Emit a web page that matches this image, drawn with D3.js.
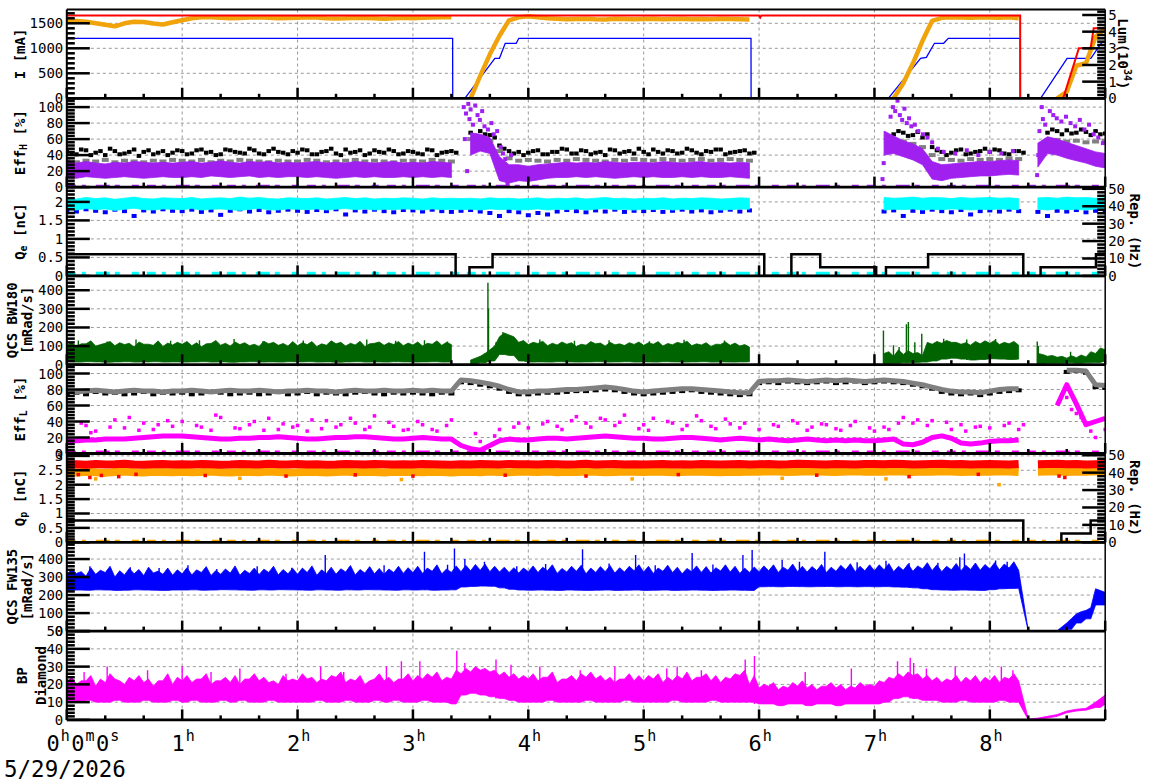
<!DOCTYPE html>
<html><head><meta charset="utf-8">
<script src="https://cdn.jsdelivr.net/npm/d3@7"></script>
<style>body{margin:0;background:#fff}svg{display:block}text{font-family:"DejaVu Sans Mono",monospace;fill:#000}</style>
</head><body><svg id="chart" width="1172" height="782"></svg>
<script>
const _ = null;
const BIN_MIN = 5; // one sample every 5 minutes, index 0..108 covers 0h..9h; "Mid" arrays sit half a bin later

// ---------- tick labels ----------
const hourLabels = [1,2,3,4,5,6,7,8];
const iTickLabels = [0,500,1000,1500];
const lumTickLabels = [0,1,2,3,4,5];
const effTickLabels = [0,20,40,60,80,100];
const qeTickLabels = [0,0.5,1,1.5,2];
const repTickLabels = [0,10,20,30,40,50];
const bwTickLabels = [0,100,200,300,400];
const qpTickLabels = [0,0.5,1,1.5,2,2.5,3];
const fwTickLabels = [0,100,200,300,400];
const bpTickLabels = [0,10,20,30,40,50];

// ---------- panel 1 : beam currents and luminosity ----------
const herCurrentPts = [[0,1200],[3.344,1200],[3.345,0],[3.45,0],[3.71,800],[3.75,800],[3.80,1100],[3.895,1100],[3.918,1200],[5.930,1200],[5.931,0],[7.12,0],[7.40,800],[7.45,820],[7.52,1100],[7.60,1100],[7.64,1200],[8.263,1200],[8.264,0],[8.44,0],[8.67,800],[8.876,800],[8.97,1120],[9,1120]];
const lumPts = [[0,4.97],[6.0,4.97],[6.01,4.85],[6.02,4.97],[8.263,4.97],[8.264,0],[8.636,0],[8.772,3.0],[8.874,3.0],[8.9,4.2],[9,4.2]];
const lerCurrent = [
1550,1545,1530,1500,1470,1440,1500,1530,1525,1495,1475,1520,
1560,1600,1620,1620,1610,1600,1605,1615,1620,1610,1600,1605,
1610,1620,1615,1600,1595,1600,1610,1605,1600,1590,1600,1610,
1600,1610,1615,1620,1620,_,0,450,880,1250,1560,1620,
1640,1620,1600,1590,1580,1585,1590,1580,1575,1590,1585,1580,
1585,1590,1580,1585,1590,1580,1585,1580,1590,1585,1580,1575,
_,_,_,_,_,_,_,_,_,_,_,_,
_,_,0,300,700,1150,1550,1610,1620,1615,1610,1620,
1615,1610,1620,1600,_,_,_,0,130,650,700,1230,
1400];

// ---------- panel 2 : Eff_H ----------
const effHPurpleLo = [
12,11,13,12,11,12,13,12,11,12,13,12,
12,13,12,14,13,12,13,14,12,13,12,13,
13,12,13,12,11,12,13,12,13,12,12,13,
12,13,12,13,12,_,40,45,42,8,5,8,
7,9,11,12,12,13,12,13,12,11,12,13,
12,13,12,12,13,12,13,12,12,13,12,11,
_,_,_,_,_,_,_,_,_,_,_,_,
_,40,42,38,34,28,10,8,11,12,13,14,
14,15,16,15,_,25,42,40,36,33,30,26,
24];
const effHPurpleHi = [
31,30,32,30,29,31,30,32,31,30,31,30,
31,32,30,31,33,31,30,32,31,32,30,31,
30,31,32,30,31,30,32,31,30,31,32,30,
31,30,32,31,30,_,68,66,62,38,28,28,
26,28,29,30,31,30,31,30,32,31,30,31,
31,30,32,31,30,31,32,30,31,30,31,30,
_,_,_,_,_,_,_,_,_,_,_,_,
_,70,64,58,54,48,32,28,29,30,31,32,
32,33,34,33,_,55,63,60,56,52,48,44,
42];
const effHBlackA = [
44,41,46,43,40,45,42,47,44,41,45,43,
45,42,47,44,41,46,43,48,42,45,44,41,
43,46,41,45,42,47,44,40,46,43,45,42,
44,41,46,43,45,_,68,70,65,52,45,44,
43,46,41,44,47,42,45,43,40,46,44,42,
44,47,42,45,43,46,41,44,47,43,45,42,
_,_,_,_,_,_,_,_,_,_,_,_,
_,_,66,68,65,62,50,44,43,47,42,45,
44,46,41,45,_,_,68,70,71,68,69,70,
67];
const effHBlackB = [
42,47,40,45,48,41,44,39,46,43,40,46,
41,46,43,40,47,44,42,46,41,48,43,45,
47,41,44,48,40,43,46,42,44,47,41,45,
42,47,40,44,43,_,64,66,62,48,42,40,
45,41,44,48,42,46,41,44,47,42,45,48,
41,44,46,42,48,43,45,47,41,44,46,43,
_,_,_,_,_,_,_,_,_,_,_,_,
_,_,70,64,69,66,46,40,46,41,44,48,
47,42,45,43,_,_,72,66,67,72,65,66,
70];
const effHGray = [
32,31,33,32,34,31,33,32,31,33,32,34,
33,32,34,31,33,32,34,33,32,31,33,32,
32,34,33,31,32,33,34,32,33,32,31,33,
33,32,34,33,32,_,60,61,58,45,36,33,
34,33,32,34,33,35,34,33,32,34,33,35,
34,33,35,34,33,34,35,33,34,35,34,33,
_,_,_,_,_,_,_,_,_,_,_,_,
_,_,56,57,54,50,40,35,34,33,35,34,
35,34,36,35,_,_,58,59,57,58,56,57,
58];
const effHPurpleOutliers = [[3.44,100],[3.45,60],[3.46,92],[3.47,20],[3.48,104],[3.49,85],[3.5,97],[3.52,78],[3.54,102],[3.56,90],[3.58,84],[3.6,95],[3.62,76],[3.65,72],[3.68,80],[3.7,66],[3.73,70],[3.76,50],[3.78,42],[3.8,35],[3.82,5],[3.85,40],
[7.07,10],[7.08,30],[7.1,55],[7.14,88],[7.16,100],[7.18,95],[7.2,108],[7.22,90],[7.24,84],[7.26,98],[7.28,80],[7.3,86],[7.32,76],[7.35,78],[7.38,70],[7.42,66],[7.46,62],[7.5,56],[7.55,48],[7.6,44],[7.7,42],[7.8,46],[7.9,40],[8.0,44],[8.1,42],[8.2,45],
[8.41,15],[8.42,40],[8.43,70],[8.45,100],[8.46,85],[8.48,78],[8.52,95],[8.55,90],[8.58,86],[8.62,82],[8.66,88],[8.7,80],[8.74,76],[8.78,84],[8.82,72],[8.86,78],[8.9,66],[8.94,62],[8.98,55]];

// ---------- panel 3 : Q_e and e- repetition ----------
const qeCyanLo = [
1.80,1.78,1.82,1.79,1.81,1.77,1.80,1.83,1.79,1.78,1.81,1.80,
1.79,1.82,1.78,1.80,1.81,1.79,1.77,1.80,1.82,1.79,1.78,1.81,
1.80,1.79,1.81,1.78,1.80,1.82,1.79,1.81,1.78,1.80,1.79,1.81,
1.80,1.78,1.81,1.79,1.80,1.79,1.80,1.78,1.81,1.79,1.80,1.78,
1.79,1.81,1.78,1.80,1.79,1.81,1.78,1.80,1.82,1.79,1.80,1.78,
1.80,1.79,1.81,1.78,1.80,1.79,1.81,1.80,1.78,1.79,1.81,1.80,
_,_,_,_,_,_,_,_,_,_,_,_,
_,1.78,1.80,1.79,1.81,1.78,1.80,1.79,1.81,1.80,1.78,1.80,
1.79,1.81,1.80,1.79,_,1.80,1.78,1.81,1.79,1.80,1.78,1.81,
1.80];
const qeCyanHi = [
2.10,2.08,2.12,2.09,2.11,2.07,2.10,2.13,2.09,2.08,2.11,2.10,
2.09,2.12,2.08,2.10,2.11,2.09,2.13,2.10,2.12,2.09,2.08,2.11,
2.10,2.09,2.11,2.08,2.10,2.12,2.09,2.11,2.08,2.10,2.09,2.11,
2.10,2.08,2.11,2.09,2.10,2.09,2.10,2.08,2.11,2.09,2.10,2.08,
2.09,2.11,2.08,2.10,2.09,2.11,2.08,2.10,2.12,2.09,2.10,2.08,
2.10,2.09,2.11,2.08,2.10,2.09,2.11,2.10,2.08,2.09,2.11,2.10,
_,_,_,_,_,_,_,_,_,_,_,_,
_,2.12,2.10,2.11,2.13,2.10,2.12,2.11,2.09,2.12,2.10,2.11,
2.12,2.10,2.11,2.09,_,2.11,2.12,2.10,2.13,2.11,2.12,2.10,
2.11];
const qeBlue = [
1.78,1.74,1.80,1.76,1.72,1.79,1.75,1.62,1.77,1.74,1.80,1.76,
1.75,1.79,1.73,1.77,1.65,1.76,1.80,1.74,1.78,1.72,1.76,1.79,
1.76,1.73,1.78,1.75,1.80,1.66,1.77,1.74,1.79,1.75,1.72,1.78,
1.77,1.74,1.79,1.75,1.73,1.76,1.78,1.74,1.70,1.62,1.75,1.72,
1.64,1.70,1.66,1.74,1.78,1.75,1.72,1.77,1.74,1.79,1.73,1.76,
1.75,1.78,1.73,1.76,1.79,1.74,1.77,1.72,1.76,1.79,1.74,1.77,
_,_,_,_,_,_,_,_,_,_,_,_,
_,1.74,1.77,1.62,1.76,1.73,1.79,1.75,1.72,1.78,1.66,1.75,
1.77,1.74,1.79,1.75,_,1.73,1.62,1.76,1.74,1.78,1.72,1.76,
1.75];
const repEPts = [[0,12.5],[3.37,12.5],[3.37,0],[3.49,0],[3.49,5],[3.69,5],[3.69,12.5],[6.045,12.5],[6.045,0],[6.28,0],[6.28,12.5],[6.53,12.5],[6.53,5],[7.015,5],[7.015,0],[7.10,0],[7.10,5],[7.465,5],[7.465,12.5],[8.29,12.5],[8.29,0],[8.44,0],[8.44,5],[8.92,5],[8.92,12.5],[9,12.5]];
const qeZeroLevel = [[0,9,0.06]];

// ---------- panel 4 : QCS BW180 ----------
const bw180Lo = [
15,14,16,15,13,15,16,14,15,16,14,15,
14,15,16,14,15,13,15,16,14,15,14,16,
15,16,14,15,13,15,16,14,15,14,16,15,
14,15,16,14,15,_,5,10,20,55,50,20,
14,15,14,16,15,14,15,16,14,15,16,14,
15,14,16,15,14,15,16,14,15,14,15,16,
_,_,_,_,_,_,_,_,_,_,_,_,
_,5,8,10,12,14,20,30,35,30,25,28,
32,30,28,30,_,5,8,8,10,8,10,12,
20];
const bw180Hi = [
105,98,112,100,115,102,108,95,110,104,98,106,
110,102,96,114,105,100,108,102,98,112,104,100,
102,108,98,105,112,100,106,98,115,104,108,102,
106,100,110,104,108,_,25,45,80,150,160,120,
108,114,102,106,110,98,105,112,100,107,103,109,
104,110,100,107,113,102,106,98,109,104,100,95,
_,_,_,_,_,_,_,_,_,_,_,_,
_,60,45,55,60,50,110,115,120,110,105,112,
115,108,112,105,_,60,45,40,35,38,42,60,
80];
const bw180HiMid = [
120,112,128,108,125,118,115,122,110,128,116,120,
125,118,112,130,115,122,118,110,126,120,114,124,
118,124,112,128,120,115,126,112,122,118,125,116,
122,115,128,120,_,_,35,60,100,170,150,130,
120,126,115,122,118,110,124,116,120,112,118,122,
118,124,114,120,126,112,118,110,122,116,108,_,
_,_,_,_,_,_,_,_,_,_,_,_,
_,70,80,75,65,120,125,130,120,118,125,128,
130,120,125,_,_,55,50,45,48,52,70,90];
const bw180Spikes = [[0.1,130],[0.35,125],[0.6,135],[0.9,128],[1.15,132],[1.45,138],[1.7,126],[2.05,130],[2.3,124],[2.6,136],[2.85,128],[3.1,132],[3.3,125],[3.62,60],[3.65,440],[3.655,300],[3.72,120],[3.78,175],[3.85,130],[4.1,135],[4.4,128],[4.7,132],[5.05,126],[5.35,134],[5.7,130],[7.078,184],[7.165,104],[7.214,95],[7.277,217],[7.294,229],[7.35,120],[7.41,166],[7.6,140],[7.8,135],[8.05,138],[8.411,125],[8.42,100],[8.7,70],[8.95,80]];

// ---------- panel 5 : Eff_L ----------
const effLGray = [
78,77,78,79,78,77,78,79,78,78,77,78,
78,79,78,77,78,79,78,78,79,78,77,78,
78,79,78,78,77,78,79,78,78,79,78,78,
79,78,79,78,78,92,91,89,87,84,80,77,
77,78,78,79,80,80,81,82,83,82,80,78,
77,78,79,80,81,81,80,79,78,77,76,76,
90,91,91,92,91,90,91,92,91,92,91,90,
91,92,91,90,88,86,83,80,78,77,77,76,
78,80,81,81,_,_,_,_,104,104,103,86,
85];
const effLBlack = [
75,76,74,77,75,76,74,75,77,74,76,75,
76,74,75,77,76,74,75,76,74,75,77,74,
75,77,74,76,75,74,76,77,75,74,76,75,
76,75,74,76,75,89,88,86,84,81,77,74,
74,75,76,76,77,78,78,79,80,79,77,75,
74,75,76,77,78,79,77,76,75,74,73,74,
88,89,88,90,89,88,89,90,88,89,90,88,
89,90,89,88,86,84,81,77,75,74,75,73,
75,77,78,79,_,_,_,_,102,103,101,83,
82];
const effLMagenta = [
16,16,17,17,18,18,18,19,20,21,22,22,
22,21,20,19,18,18,19,19,20,20,21,20,
19,18,18,19,20,20,21,21,20,19,18,18,
19,20,19,18,18,10,6,4,10,16,18,17,
17,18,19,19,18,19,20,21,22,21,20,19,
19,18,18,19,20,20,19,18,17,18,19,18,
17,18,17,16,17,18,17,16,17,16,17,16,
16,17,18,12,11,14,20,22,19,13,12,13,
15,16,16,17,_,_,_,60,86,62,36,40,
44];
const effLMagScatterA = [
30,_,35,28,_,42,32,_,38,30,_,34,
40,_,33,29,45,_,31,36,_,44,30,_,
35,28,_,41,33,_,38,30,47,_,34,29,
_,36,30,_,42,_,_,15,_,30,_,38,
32,_,40,34,_,46,38,_,42,35,48,_,
36,44,_,38,30,_,41,34,_,37,32,_,
30,_,34,_,38,29,_,36,31,_,40,_,
28,33,_,45,38,_,41,_,30,36,_,34,
32,_,38,30,_,_,_,_,70,50,_,20,
30];
const effLMagScatterB = [
_,38,26,_,33,_,45,29,_,36,41,_,
_,35,_,48,_,32,_,40,29,_,37,33,
_,42,31,_,36,44,_,33,_,39,_,30,
40,_,28,35,_,_,25,_,22,_,33,_,
_,37,_,30,41,_,33,44,_,39,_,31,
29,_,40,_,35,47,_,31,43,_,38,_,
_,36,_,41,_,33,37,_,29,35,_,32,
_,30,38,_,42,35,_,39,_,28,33,_,
_,35,_,36,_,_,_,_,55,45,28,_,
_];
const effLZeroLevel = [[0,9,1.5]];

// ---------- panel 6 : Q_p and e+ repetition ----------
const qpRed = [
2.70,2.71,2.69,2.72,2.70,2.71,2.73,2.70,2.69,2.71,2.72,2.70,
2.71,2.70,2.72,2.71,2.69,2.70,2.72,2.71,2.70,2.73,2.71,2.70,
2.72,2.70,2.71,2.69,2.70,2.72,2.71,2.70,2.72,2.71,2.70,2.71,
2.70,2.72,2.71,2.70,2.69,2.71,2.70,2.72,2.71,2.70,2.72,2.71,
2.71,2.70,2.72,2.71,2.70,2.71,2.73,2.70,2.71,2.72,2.70,2.71,
2.70,2.71,2.72,2.70,2.71,2.70,2.72,2.71,2.70,2.71,2.72,2.70,
2.71,2.72,2.70,2.71,2.73,2.72,2.71,2.70,2.72,2.71,2.70,2.72,
2.72,2.71,2.73,2.72,2.70,2.71,2.72,2.73,2.71,2.72,2.70,2.71,
2.72,2.71,2.70,2.72,_,2.71,2.72,2.73,2.71,2.72,2.70,2.71,
2.72];
const qpOrange = [
2.44,2.42,2.45,2.43,2.41,2.44,2.46,2.43,2.42,2.45,2.44,2.43,
2.45,2.43,2.44,2.46,2.43,2.42,2.44,2.45,2.43,2.46,2.44,2.42,
2.43,2.45,2.44,2.42,2.44,2.46,2.43,2.45,2.44,2.42,2.45,2.44,
2.44,2.43,2.45,2.44,2.42,2.44,2.45,2.43,2.46,2.44,2.43,2.45,
2.45,2.44,2.46,2.43,2.45,2.44,2.46,2.45,2.43,2.44,2.46,2.45,
2.44,2.46,2.45,2.43,2.44,2.46,2.45,2.44,2.43,2.45,2.44,2.46,
2.45,2.47,2.46,2.44,2.45,2.47,2.46,2.45,2.44,2.46,2.47,2.45,
2.46,2.45,2.47,2.46,2.44,2.46,2.45,2.47,2.46,2.44,2.45,2.46,
2.45,2.47,2.46,2.44,_,2.45,2.46,2.47,2.44,2.46,2.45,2.47,
2.46];
const qpRedOutliers = [[0.1,2.35],[0.2,2.25],[0.3,2.32],[0.45,2.28],[0.6,2.36],[1.2,2.32],[1.9,2.3],[2.5,2.34],[3.0,2.3],[3.8,2.33],[4.5,2.3],[5.3,2.35],[6.5,2.33],[7.3,2.28],[7.9,2.36],[8.6,2.3],[8.65,2.25]];
const qpOrangeOutliers = [[0.25,2.2],[1.5,2.22],[2.9,2.18],[4.9,2.2],[6.2,2.22],[7.1,2.2],[8.08,2.0]];
const repPPts = [[0,12.5],[8.29,12.5],[8.29,0],[8.62,0],[8.62,5],[8.874,5],[8.874,12.5],[9,12.5]];
const qpZeroLevel = [[0,9,0.03]];

// ---------- panel 7 : QCS FW135 ----------
const fw135Lo = [
226,228,227,229,228,226,227,229,228,227,226,228,
228,229,227,228,230,229,228,227,229,228,230,229,
228,227,229,228,227,229,228,230,229,228,227,229,
228,229,227,228,229,245,248,250,249,240,232,228,
227,228,227,226,228,227,226,227,228,226,227,228,
226,227,228,226,227,228,227,226,227,228,227,226,
246,247,246,248,247,246,247,248,246,247,246,247,
246,247,245,244,240,235,230,228,227,228,227,226,
230,235,237,238,0,0,0,0,10,45,68,145,
145];
const fw135Hi = [
310,320,305,315,325,300,312,318,308,322,315,310,
318,312,325,308,316,322,310,320,314,326,312,318,
315,325,310,320,316,328,312,322,318,315,325,320,
325,320,332,318,326,330,335,338,330,328,325,322,
330,325,335,320,328,332,318,326,330,322,328,335,
328,320,332,325,318,330,326,322,334,328,320,325,
330,335,325,338,330,328,336,325,332,340,330,335,
335,340,330,338,332,345,336,330,340,335,342,338,
345,340,350,338,2,2,2,2,45,95,115,235,
215];
const fw135HiMid = [
345,330,352,338,360,335,348,342,355,333,350,340,
352,340,358,336,345,362,338,350,344,360,342,348,
350,362,340,355,346,364,342,358,348,345,360,352,
360,350,368,345,362,365,370,372,360,355,352,350,
362,355,368,348,360,366,350,358,364,352,360,368,
360,350,366,355,348,362,358,352,368,360,350,356,
362,368,355,372,360,358,370,355,365,374,360,368,
368,375,360,372,362,380,368,360,375,366,378,370,
380,372,385,_,_,_,_,_,70,108,130,225];
const fw135Spikes = [[0.2,360],[0.55,355],[0.8,350],[1.05,365],[1.3,345],[1.65,360],[1.95,352],[2.24,422],[2.45,355],[2.75,365],[3.1,440],[3.3,368],[3.36,459],[3.45,400],[3.62,385],[3.9,360],[4.15,372],[4.47,454],[4.7,375],[4.93,422],[5.1,365],[5.42,433],[5.6,370],[5.86,422],[5.94,450],[6.2,395],[6.35,385],[6.57,440],[6.85,382],[7.1,390],[7.3,378],[7.55,380],[7.74,410],[7.78,431],[8.05,392],[8.15,385]];

// ---------- panel 8 : BP Diamond ----------
const bpLo = [
10,10,11,10,10,11,10,10,11,10,10,11,
10,11,10,10,11,10,11,10,10,11,10,10,
10,10,11,10,10,11,10,10,11,10,11,10,
10,11,10,10,9,14,15,14,13,12,11,10,
10,10,11,10,10,10,11,10,10,10,11,10,
10,10,10,11,10,10,10,11,10,10,10,10,
9,9,8,9,9,8,9,9,8,9,9,9,
9,10,12,13,12,11,11,10,10,11,10,10,
10,11,10,10,0,0.3,1,2,4,5,5.5,7,
9];
const bpHi = [
21,20,22,19,21,23,20,22,21,19,22,20,
22,21,23,20,22,21,20,23,22,21,20,22,
22,23,21,22,24,21,22,20,23,22,21,23,
22,23,24,22,23,26,27,28,27,25,24,23,
23,22,24,21,23,22,24,23,22,21,23,22,
22,23,21,22,23,22,24,22,21,23,25,20,
18,19,17,18,19,18,17,19,18,17,18,19,
19,21,23,24,25,23,22,21,22,21,22,21,
22,21,23,22,0.5,1,2,3,5,6,6.5,10,
14];
const bpHiMid = [
24,22,25,23,26,22,24,25,23,22,26,24,
25,23,26,22,24,25,23,26,24,22,25,23,
26,24,23,25,27,23,25,22,26,24,23,26,
25,26,27,24,28,29,30,29,28,27,26,25,
26,24,27,23,25,26,27,25,24,23,26,25,
25,26,24,25,27,24,26,25,24,26,28,25,
20,21,19,21,22,20,19,21,20,19,21,20,
22,24,26,27,26,25,24,23,25,24,25,24,
25,24,26,_,_,_,_,_,_,_,_,12];
const bpSpikes = [[0.15,27],[0.35,30],[0.7,28],[1.0,30],[1.25,27],[1.5,29],[1.9,26],[2.2,30],[2.4,27],[2.77,30],[2.9,33],[3.06,33],[3.38,39],[3.45,32],[3.72,34],[3.85,31],[4.1,30],[4.45,28],[4.75,30],[5.2,29],[5.29,30],[5.5,28],[5.88,34],[5.96,36],[6.4,27],[6.8,29],[7.2,33],[7.31,35],[7.34,32],[7.45,29],[7.7,30],[8.1,30],[8.2,28]];

// =================== drawing ===================
const X0 = 66.8, X1 = 1105.2, TOP = 9.5, PH = 88.8;
const svg = d3.select("#chart");
const x = d3.scaleLinear().domain([0, 9]).range([X0, X1]);
const tOf = i => i * BIN_MIN / 60;
const HALF = BIN_MIN / 2 / 60;

const panelDefs = [
  {id:"I",    max:1776,  labels:iTickLabels,   minor:100},
  {id:"EffH", max:111,   labels:effTickLabels, minor:4},
  {id:"Qe",   max:2.4,   labels:qeTickLabels,  minor:0.1},
  {id:"BW",   max:477,   labels:bwTickLabels,  minor:20},
  {id:"EffL", max:111,   labels:effTickLabels, minor:4},
  {id:"Qp",   max:3.083, labels:qpTickLabels,  minor:0.1},
  {id:"FW",   max:493,   labels:fwTickLabels,  minor:20},
  {id:"BP",   max:50,    labels:bpTickLabels,  minor:2}
];
const P = {};
panelDefs.forEach((p, k) => {
  p.top = TOP + k * PH; p.bot = p.top + PH;
  p.y = d3.scaleLinear().domain([0, p.max]).range([p.bot, p.top]);
  P[p.id] = p;
});
P.I.right = {max:5.33, labels:lumTickLabels, minor:0.2};
P.Qe.right = {max:51, labels:repTickLabels, minor:2};
P.Qp.right = {max:51, labels:repTickLabels, minor:2};
panelDefs.forEach(p => { if (p.right) p.yr = d3.scaleLinear().domain([0, p.right.max]).range([p.bot, p.top]); });

const defs = svg.append("defs");
const gGrid = svg.append("g"), gData = svg.append("g"), gAxis = svg.append("g");

// grid
panelDefs.forEach(p => {
  p.labels.filter(v => v > 0 && v < p.max - 1e-6).forEach(v => {
    gGrid.append("line").attr("x1", X0).attr("x2", X1).attr("y1", p.y(v)).attr("y2", p.y(v))
      .attr("stroke", "#999").attr("stroke-dasharray", "3,3").attr("stroke-width", 1);
  });
});
hourLabels.forEach(h => {
  gGrid.append("line").attr("x1", x(h)).attr("x2", x(h)).attr("y1", TOP).attr("y2", TOP + 8 * PH)
    .attr("stroke", "#999").attr("stroke-dasharray", "3,3").attr("stroke-width", 1);
});

panelDefs.forEach(p => {
  defs.append("clipPath").attr("id", "clip" + p.id).append("rect")
    .attr("x", X0).attr("y", p.top).attr("width", X1 - X0).attr("height", PH);
  p.g = gData.append("g").attr("clip-path", `url(#clip${p.id})`);
});

function band(p, lo, hi, color, hiMid) {
  const data = [];
  lo.forEach((v, i) => {
    data.push({t: tOf(i), lo: v, hi: hi[i]});
    if (hiMid && i < lo.length - 1 && hiMid[i] != null && v != null && lo[i + 1] != null)
      data.push({t: tOf(i) + HALF, lo: v, hi: hiMid[i]});
  });
  const a = d3.area().defined(d => d.lo != null && d.hi != null)
    .x(d => x(d.t)).y0(d => p.y(d.lo)).y1(d => p.y(d.hi));
  p.g.append("path").attr("d", a(data)).attr("fill", color).attr("stroke", color).attr("stroke-width", 0.8);
}
function thick(p, arr, color, w, ys) {
  const yy = ys || p.y;
  const data = arr.map((v, i) => ({t: tOf(i), v}));
  const l = d3.line().defined(d => d.v != null).x(d => x(d.t)).y(d => yy(d.v));
  p.g.append("path").attr("d", l(data)).attr("fill", "none").attr("stroke", color)
    .attr("stroke-width", w).attr("stroke-linejoin", "round");
}
function ptsLine(p, pts, color, w, ys) {
  const yy = ys || p.y;
  const l = d3.line().x(d => x(d[0])).y(d => yy(d[1]));
  p.g.append("path").attr("d", l(pts)).attr("fill", "none").attr("stroke", color).attr("stroke-width", w);
}
function dots(p, arr, color, sw, sh, offMin) {
  const data = arr.map((v, i) => ({t: tOf(i) + (offMin || 0) / 60, v})).filter(d => d.v != null);
  p.g.selectAll(null).data(data).join("rect")
    .attr("x", d => x(d.t) - sw / 2).attr("y", d => p.y(d.v) - sh / 2)
    .attr("width", sw).attr("height", sh).attr("fill", color);
}
function ptDots(p, pts, color, s) {
  p.g.selectAll(null).data(pts).join("rect")
    .attr("x", d => x(d[0]) - s / 2).attr("y", d => p.y(d[1]) - s / 2)
    .attr("width", s).attr("height", s).attr("fill", color);
}
function spikes(p, pts, lo, color) {
  pts.forEach(([h, v]) => {
    const b = lo[Math.round(h * 60 / BIN_MIN)];
    p.g.append("line").attr("x1", x(h)).attr("x2", x(h)).attr("y1", p.y(b == null ? 0 : b)).attr("y2", p.y(v))
      .attr("stroke", color).attr("stroke-width", 1.4);
  });
}
function zeroDashes(p, levels, color, w) {
  levels.forEach(([a, b, v]) => {
    p.g.append("line").attr("x1", x(a)).attr("x2", x(b)).attr("y1", p.y(v)).attr("y2", p.y(v))
      .attr("stroke", color).attr("stroke-width", w).attr("stroke-dasharray", "9,6,4,10,14,5,5,12,7,8");
  });
}

// panel 1
ptsLine(P.I, herCurrentPts, "#0000ff", 1.3);
thick(P.I, lerCurrent, "#f0a30a", 4.5);
ptsLine(P.I, lumPts, "#ff0000", 2, P.I.yr);
// panel 2
zeroDashes(P.EffH, [[0, 9, 0.8]], "#a020f0", 3.5);
dots(P.EffH, effHBlackA, "#000", 4.5, 4, 0);
dots(P.EffH, effHBlackB, "#000", 4.5, 4, 2.5);
dots(P.EffH, effHGray, "#808080", 7, 4, 0);
band(P.EffH, effHPurpleLo, effHPurpleHi, "#a020f0");
ptDots(P.EffH, effHPurpleOutliers, "#a020f0", 4);
// panel 3
zeroDashes(P.Qe, qeZeroLevel, "#00ffff", 4);
dots(P.Qe, qeBlue, "#0000ff", 5, 4, 0);
band(P.Qe, qeCyanLo, qeCyanHi, "#00ffff");
ptsLine(P.Qe, repEPts, "#000", 2.5, P.Qe.yr);
// panel 4
spikes(P.BW, bw180Spikes, bw180Lo, "#006400");
band(P.BW, bw180Lo, bw180Hi, "#006400", bw180HiMid);
// panel 5
zeroDashes(P.EffL, effLZeroLevel, "#ff00ff", 3.5);
dots(P.EffL, effLBlack, "#000", 6, 4, 0);
thick(P.EffL, effLGray, "#808080", 5);
dots(P.EffL, effLMagScatterA, "#ff00ff", 3.5, 3.5, 0);
dots(P.EffL, effLMagScatterB, "#ff00ff", 3.5, 3.5, 2.5);
thick(P.EffL, effLMagenta, "#ff00ff", 5);
// panel 6
zeroDashes(P.Qp, qpZeroLevel, "#ffa500", 3.5);
thick(P.Qp, qpOrange, "#ffa500", 8);
ptDots(P.Qp, qpOrangeOutliers, "#ffa500", 3.5);
thick(P.Qp, qpRed, "#ff0000", 8);
ptDots(P.Qp, qpRedOutliers, "#ff0000", 3.5);
ptsLine(P.Qp, repPPts, "#000", 2.5, P.Qp.yr);
// panel 7
spikes(P.FW, fw135Spikes, fw135Lo, "#0000ff");
band(P.FW, fw135Lo, fw135Hi, "#0000ff", fw135HiMid);
// panel 8
spikes(P.BP, bpSpikes, bpLo, "#ff00ff");
band(P.BP, bpLo, bpHi, "#ff00ff", bpHiMid);

// ---------- axes ----------
const near = (a, arr) => arr.some(b => Math.abs(a - b) < 1e-6);
panelDefs.forEach(p => {
  const minors = d3.range(0, Math.floor(p.max / p.minor + 1e-6) + 1).map(k => +(k * p.minor).toFixed(6));
  minors.filter(v => !near(v, p.labels) && v <= p.max).forEach(v => {
    gAxis.append("line").attr("x1", X0).attr("x2", X0 + 8).attr("y1", p.y(v)).attr("y2", p.y(v))
      .attr("stroke", "#000").attr("stroke-width", 2.5);
  });
  p.labels.forEach(v => {
    gAxis.append("line").attr("x1", X0).attr("x2", X0 + 23).attr("y1", p.y(v)).attr("y2", p.y(v))
      .attr("stroke", "#000").attr("stroke-width", 2.5);
    gAxis.append("text").attr("x", X0 - 3.5).attr("y", p.y(v)).attr("text-anchor", "end")
      .attr("dominant-baseline", "central").attr("font-size", 14).text(String(v));
  });
  if (p.right) {
    const r = p.right;
    const rm = d3.range(0, Math.floor(r.max / r.minor + 1e-6) + 1).map(k => +(k * r.minor).toFixed(6));
    rm.filter(v => !near(v, r.labels)).forEach(v => {
      gAxis.append("line").attr("x1", X1 - 8).attr("x2", X1).attr("y1", p.yr(v)).attr("y2", p.yr(v))
        .attr("stroke", "#000").attr("stroke-width", 2.5);
    });
    r.labels.forEach(v => {
      gAxis.append("line").attr("x1", X1 - 23).attr("x2", X1).attr("y1", p.yr(v)).attr("y2", p.yr(v))
        .attr("stroke", "#000").attr("stroke-width", 2.5);
      gAxis.append("text").attr("x", X1 + 3).attr("y", p.yr(v)).attr("dominant-baseline", "central")
        .attr("font-size", 14).text(String(v));
    });
  }
  d3.range(0, 28).forEach(k => {
    const h = k / 3, major = k % 3 === 0;
    gAxis.append("line").attr("x1", x(h)).attr("x2", x(h)).attr("y1", p.bot).attr("y2", p.bot - (major ? 10.5 : 4.5))
      .attr("stroke", "#000").attr("stroke-width", 2.5);
  });
  gAxis.append("line").attr("x1", X0).attr("x2", X1).attr("y1", p.bot).attr("y2", p.bot)
    .attr("stroke", "#000").attr("stroke-width", 2.8);
});
gAxis.append("line").attr("x1", X0).attr("x2", X1).attr("y1", TOP).attr("y2", TOP).attr("stroke", "#000").attr("stroke-width", 2);
gAxis.append("line").attr("x1", X0).attr("x2", X0).attr("y1", TOP).attr("y2", TOP + 8 * PH).attr("stroke", "#000").attr("stroke-width", 2);
gAxis.append("line").attr("x1", X1).attr("x2", X1).attr("y1", TOP).attr("y2", TOP + 8 * PH).attr("stroke", "#000").attr("stroke-width", 1.5);

// ---------- axis titles ----------
function vTitle(cx, cy, parts, rot) {
  const t = gAxis.append("text").attr("transform", `translate(${cx},${cy}) rotate(${rot})`)
    .attr("text-anchor", "middle").attr("dominant-baseline", "central")
    .attr("font-size", 14).attr("font-weight", "bold");
  parts.forEach(([s, kind]) => {
    const ts = t.append("tspan").text(s);
    if (kind === "sub") ts.attr("font-size", 10).attr("baseline-shift", "-30%");
    if (kind === "sup") ts.attr("font-size", 10).attr("baseline-shift", "45%");
  });
}
const mid = p => (p.top + p.bot) / 2;
vTitle(20, mid(P.I), [["I [mA]"]], -90);
vTitle(20, mid(P.EffH), [["Eff"], ["H", "sub"], [" [%]"]], -90);
vTitle(20, mid(P.Qe), [["Q"], ["e", "sub"], [" [nC]"]], -90);
vTitle(11.5, mid(P.BW), [["QCS BW180"]], -90);
vTitle(26.5, mid(P.BW), [["[mRad/s]"]], -90);
vTitle(20, mid(P.EffL), [["Eff"], ["L", "sub"], [" [%]"]], -90);
vTitle(20, mid(P.Qp), [["Q"], ["p", "sub"], [" [nC]"]], -90);
vTitle(11.5, mid(P.FW), [["QCS FW135"]], -90);
vTitle(26.5, mid(P.FW), [["[mRad/s]"]], -90);
vTitle(21.5, mid(P.BP), [["BP"]], -90);
vTitle(40.5, mid(P.BP), [["Diamond"]], -90);
vTitle(1123, mid(P.I), [["Lum(10"], ["34", "sup"], [")"]], 90);
vTitle(1135, mid(P.Qe), [["Rep. (Hz)"]], 90);
vTitle(1135, mid(P.Qp), [["Rep. (Hz)"]], 90);

// ---------- time labels ----------
const lab0 = gAxis.append("text").attr("x", 46.5).attr("y", 751);
[["0", 0], ["h", 1], ["0", 0], ["m", 1], ["0", 0], ["s", 1]].forEach(([s, sup], k) => {
  const ts = lab0.append("tspan").text(s);
  if (sup) ts.attr("font-size", 15).attr("dy", -10).attr("dx", 1);
  else ts.attr("font-size", 22).attr("dy", k === 0 ? 0 : 10).attr("dx", k === 0 ? 0 : 1.5);
});
hourLabels.forEach(h => {
  const t = gAxis.append("text").attr("x", x(h) + 1).attr("y", 751).attr("text-anchor", "middle");
  t.append("tspan").attr("font-size", 22).text(String(h));
  t.append("tspan").attr("font-size", 15).attr("dy", -10).attr("dx", 1).text("h");
});
gAxis.append("text").attr("x", 4).attr("y", 777).attr("font-size", 22.5).text("5/29/2026");
</script></body></html>
